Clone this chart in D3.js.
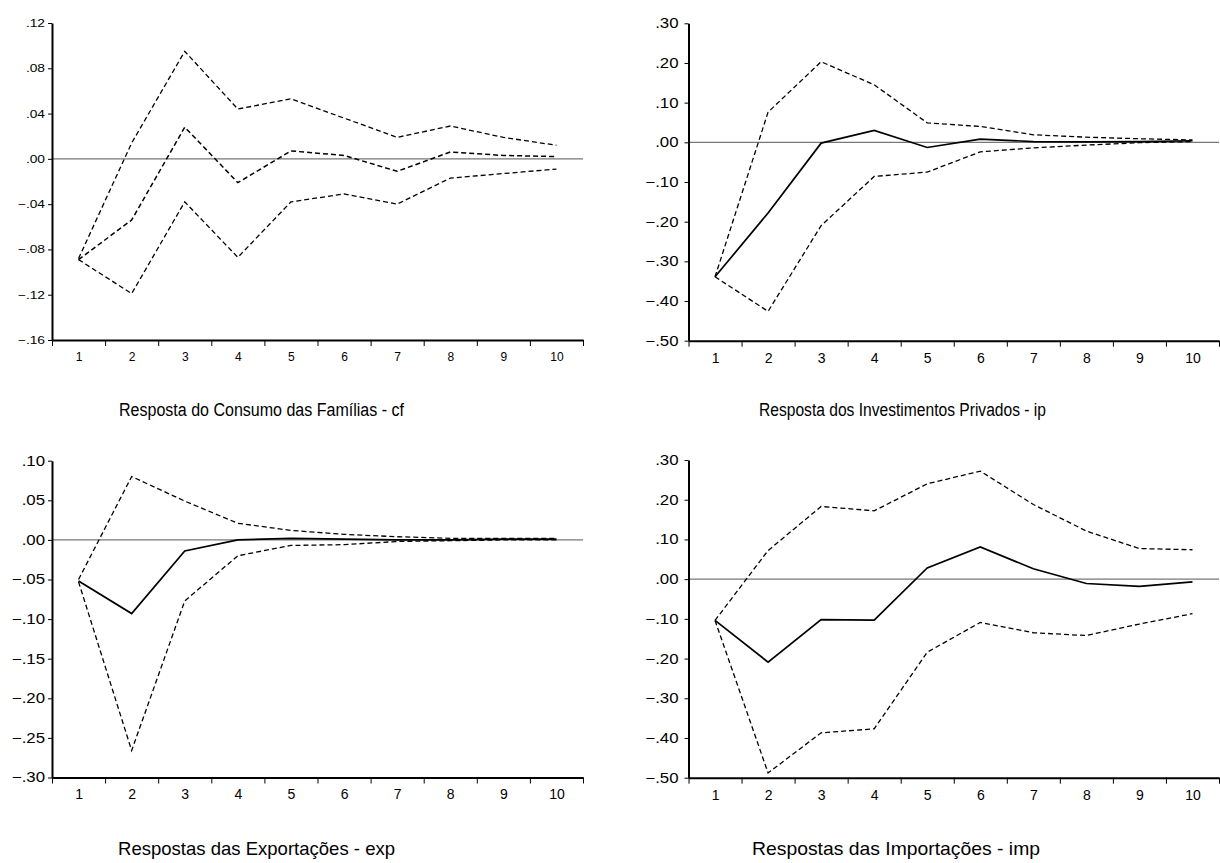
<!DOCTYPE html>
<html>
<head>
<meta charset="utf-8">
<script src="https://cdn.jsdelivr.net/npm/d3@7/dist/d3.min.js"></script>
<style>
  html, body { margin: 0; padding: 0; background: #fff; }
  svg { display: block; }
  text { font-family: "Liberation Sans", Arial, sans-serif; fill: #000; }
</style>
</head>
<body>
<svg id="chart" width="1220" height="863"></svg>
<script>
// ---------------- data ----------------
const periods = [1, 2, 3, 4, 5, 6, 7, 8, 9, 10];

// Resposta do Consumo das Famílias - cf
const cfUpper = [-0.088, 0.014, 0.095, 0.044, 0.053, 0.036, 0.019, 0.029, 0.019, 0.012];
const cfResp  = [-0.089, -0.054, 0.028, -0.021, 0.007, 0.003, -0.011, 0.006, 0.003, 0.002];
const cfLower = [-0.089, -0.119, -0.038, -0.087, -0.038, -0.031, -0.040, -0.017, -0.013, -0.009];
const cfTicks = [0.12, 0.08, 0.04, 0.00, -0.04, -0.08, -0.12, -0.16];

// Resposta dos Investimentos Privados - ip
const ipUpper = [-0.339, 0.076, 0.203, 0.145, 0.049, 0.040, 0.019, 0.013, 0.009, 0.006];
const ipResp  = [-0.339, -0.178, -0.002, 0.030, -0.013, 0.008, 0.002, 0.001, 0.002, 0.004];
const ipLower = [-0.339, -0.426, -0.210, -0.086, -0.075, -0.024, -0.014, -0.007, -0.001, 0.002];
const ipTicks = [0.30, 0.20, 0.10, 0.00, -0.10, -0.20, -0.30, -0.40, -0.50];

// Respostas das Exportações - exp
const expUpper = [-0.050, 0.080, 0.049, 0.021, 0.012, 0.007, 0.004, 0.002, 0.002, 0.002];
const expResp  = [-0.052, -0.093, -0.014, 0.000, 0.002, 0.001, 0.000, 0.000, 0.001, 0.001];
const expLower = [-0.053, -0.266, -0.077, -0.020, -0.007, -0.006, -0.002, -0.001, 0.000, 0.000];
const expTicks = [0.10, 0.05, 0.00, -0.05, -0.10, -0.15, -0.20, -0.25, -0.30];

// Respostas das Importações - imp
const impUpper = [-0.104, 0.072, 0.183, 0.172, 0.240, 0.272, 0.188, 0.121, 0.077, 0.074];
const impResp  = [-0.104, -0.209, -0.102, -0.103, 0.028, 0.081, 0.026, -0.011, -0.018, -0.007];
const impLower = [-0.104, -0.488, -0.387, -0.377, -0.184, -0.109, -0.135, -0.142, -0.113, -0.087];
const impTicks = [0.30, 0.20, 0.10, 0.00, -0.10, -0.20, -0.30, -0.40, -0.50];

const titles = [
  "Resposta do Consumo das Famílias - cf",
  "Resposta dos Investimentos Privados - ip",
  "Respostas das Exportações - exp",
  "Respostas das Importações - imp"
];

// ---------------- layout ----------------
const panels = [
  { upper: cfUpper, resp: cfResp, lower: cfLower, ticks: cfTicks, title: titles[0],
    x0: 52, x1: 583, yTop: 23, yBot: 340, respDashed: true,
    yFont: 11, yStretch: 1.25, yPad: 7, xFont: 12,
    titleX: 261.5, titleY: 416, titleFont: 18, titleW: 285 },
  { upper: ipUpper, resp: ipResp, lower: ipLower, ticks: ipTicks, title: titles[1],
    x0: 688.5, x1: 1219, yTop: 23.3, yBot: 340.7, respDashed: false,
    yFont: 14, yStretch: 1.2, yPad: 10, xFont: 14,
    titleX: 902.5, titleY: 416, titleFont: 18, titleW: 287 },
  { upper: expUpper, resp: expResp, lower: expLower, ticks: expTicks, title: titles[2],
    x0: 52, x1: 583, yTop: 460.7, yBot: 777.5, respDashed: false,
    yFont: 14, yStretch: 1.2, yPad: 7, xFont: 14,
    titleX: 256.5, titleY: 855, titleFont: 19, titleW: 277 },
  { upper: impUpper, resp: impResp, lower: impLower, ticks: impTicks, title: titles[3],
    x0: 688.5, x1: 1219, yTop: 460, yBot: 777.7, respDashed: false,
    yFont: 14, yStretch: 1.2, yPad: 10, xFont: 14,
    titleX: 896, titleY: 855, titleFont: 19, titleW: 288 }
];

const svg = d3.select("#chart");
const fmt = v => {
  const s = d3.format(".2f")(Math.abs(v) < 1e-9 ? 0 : v);
  return s.replace("0.", ".");
};
const FONT = '"Liberation Sans", Arial, sans-serif';

panels.forEach(p => {
  const g = svg.append("g");
  const ext = d3.extent(p.ticks);
  const y = d3.scaleLinear().domain([ext[0], ext[1]]).range([p.yBot, p.yTop]);
  const x = d3.scaleLinear().domain([0.5, 10.5]).range([p.x0, p.x1]);

  // zero line
  g.append("line")
    .attr("x1", p.x0).attr("x2", p.x1)
    .attr("y1", y(0)).attr("y2", y(0))
    .attr("stroke", "#777").attr("stroke-width", 1.2);

  // y axis
  const yAxis = d3.axisLeft(y).tickValues(p.ticks).tickSize(4).tickSizeOuter(0).tickFormat(fmt);
  const ya = g.append("g").attr("transform", `translate(${p.x0},0)`).call(yAxis);
  ya.select(".domain").attr("stroke", "#000").attr("stroke-width", 2);
  ya.selectAll(".tick line").attr("stroke", "#000").attr("stroke-width", 1);
  ya.selectAll(".tick text").attr("font-size", p.yFont).attr("x", -p.yPad)
    .style("font-family", FONT).attr("fill", "#000")
    .each(function () {
      const w = this.getComputedTextLength();
      d3.select(this).attr("textLength", w * p.yStretch).attr("lengthAdjust", "spacingAndGlyphs");
    });

  // x axis: boundary ticks
  const bounds = d3.range(0.5, 11, 1);
  const xAxisTicks = d3.axisBottom(x).tickValues(bounds).tickSize(6).tickSizeOuter(0).tickFormat("");
  const xa = g.append("g").attr("transform", `translate(0,${p.yBot})`).call(xAxisTicks);
  xa.select(".domain").attr("stroke", "#000").attr("stroke-width", 2);
  xa.selectAll(".tick line").attr("stroke", "#000").attr("stroke-width", 1);

  // x labels at periods
  const xLab = d3.axisBottom(x).tickValues(periods).tickSize(0).tickPadding(12).tickFormat(d3.format("d"));
  const xl = g.append("g").attr("transform", `translate(0,${p.yBot})`).call(xLab);
  xl.select(".domain").remove();
  xl.selectAll(".tick text").attr("font-size", p.xFont)
    .style("font-family", FONT).attr("fill", "#000");

  const line = d3.line().x((d, i) => x(periods[i])).y(d => y(d));

  g.append("path").datum(p.upper).attr("d", line)
    .attr("fill", "none").attr("stroke", "#000").attr("stroke-width", 1.3)
    .attr("stroke-dasharray", "5,3");
  g.append("path").datum(p.lower).attr("d", line)
    .attr("fill", "none").attr("stroke", "#000").attr("stroke-width", 1.3)
    .attr("stroke-dasharray", "5,3");
  g.append("path").datum(p.resp).attr("d", line)
    .attr("fill", "none").attr("stroke", "#000")
    .attr("stroke-width", p.respDashed ? 1.5 : 1.7)
    .attr("stroke-dasharray", p.respDashed ? "5,3" : null);

  g.append("text")
    .attr("x", p.titleX).attr("y", p.titleY)
    .attr("text-anchor", "middle").attr("font-size", p.titleFont)
    .attr("textLength", p.titleW).attr("lengthAdjust", "spacingAndGlyphs")
    .text(p.title);
});
</script>
</body>
</html>
